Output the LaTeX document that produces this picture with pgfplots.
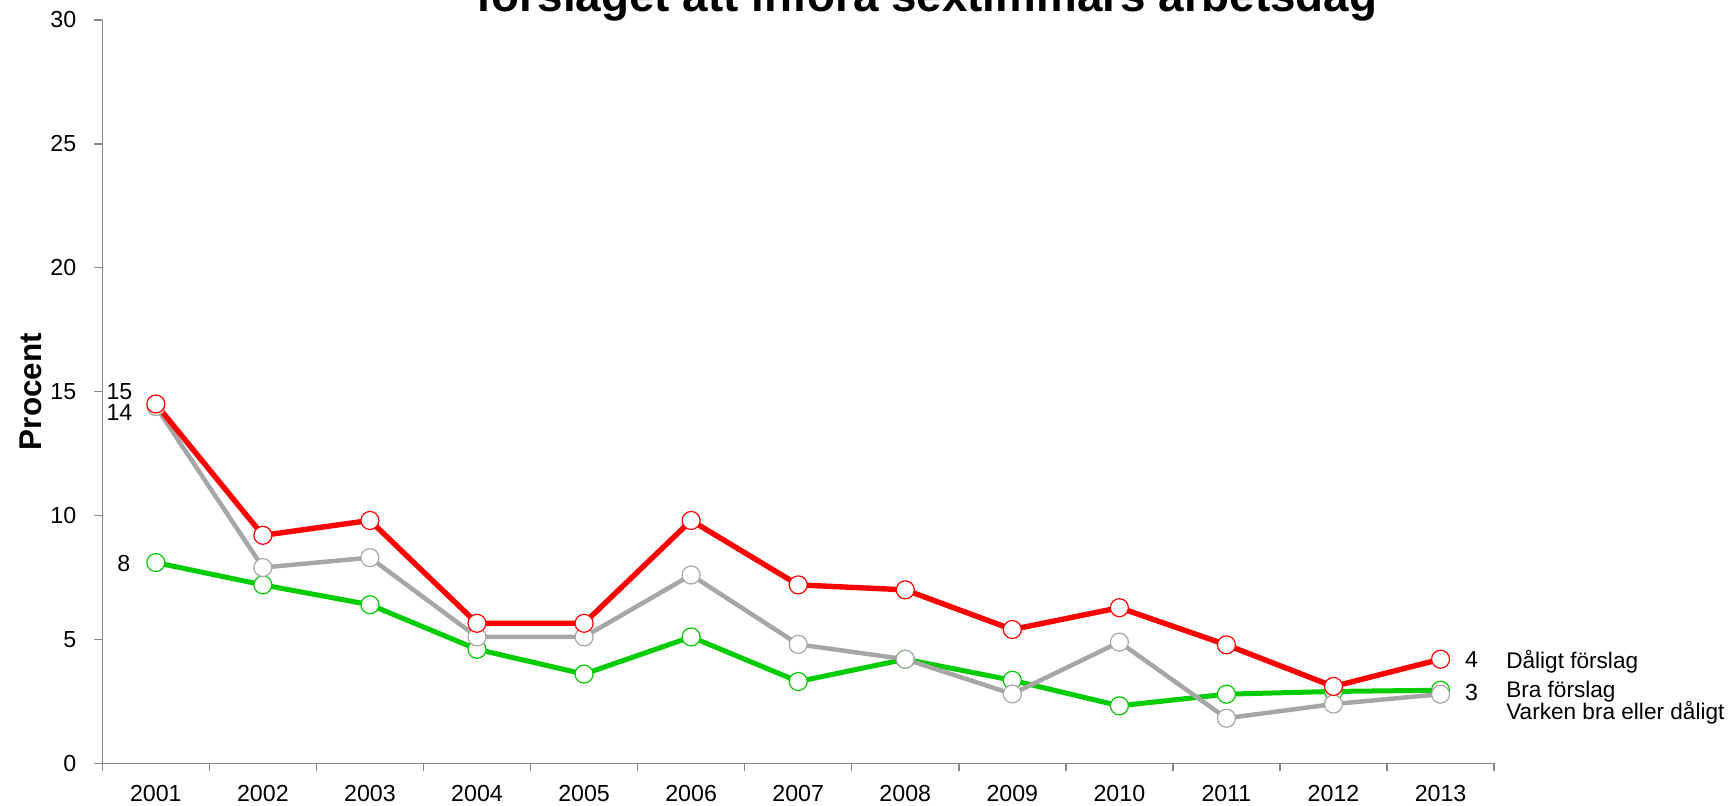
\documentclass[border=0pt]{standalone}
\usepackage{pgfplots}
\pgfplotsset{compat=1.18}
\usepackage{fontspec}
\setmainfont{Liberation Sans}
\definecolor{cred}{RGB}{255,0,0}
\definecolor{cgreen}{RGB}{0,204,0}
\definecolor{cgray}{RGB}{166,166,166}
\definecolor{caxis}{RGB}{134,134,134}
\begin{document}
\begin{tikzpicture}
\begin{axis}[
  at={(51.15pt,20.85pt)}, anchor=south west,
  scale only axis, width=695.9pt, height=371.7pt,
  xmin=2000.5, xmax=2013.5, ymin=0, ymax=30,
  axis x line*=bottom, axis y line*=left,
  axis line style={draw=caxis, line width=0.75pt},
  every tick/.style={draw=caxis, line width=0.75pt},
  tick align=outside,
  xtick={2000.5,2001.5,2002.5,2003.5,2004.5,2005.5,2006.5,2007.5,2008.5,2009.5,2010.5,2011.5,2012.5,2013.5},
  x tick label as interval,
  xticklabels={2001,2002,2003,2004,2005,2006,2007,2008,2009,2010,2011,2012,2013},
  ytick={0,5,10,15,20,25,30},
  major tick length=4pt,
  /pgf/number format/assume math mode=true,
  ticklabel style={font=\fontsize{11.6}{14}\selectfont, text=black},
  yticklabel style={xshift=-5.5pt},
  xticklabel style={yshift=-3.3pt},
  clip=false,
  every axis plot/.append style={mark=*, mark size=4.5pt, mark options={fill=white, line width=0.6pt, solid}},
]
\addplot[cgreen, line width=2.5pt] coordinates {
(2001,8.1)(2002,7.2)(2003,6.4)(2004,4.6)(2005,3.6)(2006,5.1)(2007,3.3)(2008,4.2)(2009,3.35)(2010,2.32)(2011,2.79)(2012,2.9)(2013,2.95)};
\addplot[cgray, line width=2.25pt] coordinates {
(2001,14.4)(2002,7.9)(2003,8.3)(2004,5.1)(2005,5.1)(2006,7.6)(2007,4.8)(2008,4.2)(2009,2.8)(2010,4.89)(2011,1.82)(2012,2.39)(2013,2.79)};
\addplot[cred, line width=2.7pt] coordinates {
(2001,14.5)(2002,9.2)(2003,9.8)(2004,5.65)(2005,5.65)(2006,9.8)(2007,7.2)(2008,7.0)(2009,5.4)(2010,6.28)(2011,4.78)(2012,3.1)(2013,4.2)};
\node[font=\fontsize{11.6}{14}\selectfont] at (axis cs:2000.66,15.0) {15};
\node[font=\fontsize{11.6}{14}\selectfont] at (axis cs:2000.66,14.15) {14};
\node[font=\fontsize{11.6}{14}\selectfont] at (axis cs:2000.7,8.08) {8};
\node[font=\fontsize{11.6}{14}\selectfont] at (axis cs:2013.29,4.17) {4};
\node[font=\fontsize{11.6}{14}\selectfont] at (axis cs:2013.29,2.86) {3};
\node[font=\fontsize{11.3}{14}\selectfont, anchor=west, inner sep=0pt] at (axis cs:2013.61,4.09) {Dåligt förslag};
\node[font=\fontsize{11.3}{14}\selectfont, anchor=west, inner sep=0pt] at (axis cs:2013.61,2.88) {Bra förslag};
\node[font=\fontsize{11.3}{14}\selectfont, anchor=west, inner sep=0pt] at (axis cs:2013.61,2.05) {Varken bra eller dåligt};
\end{axis}
\node[rotate=90, font=\fontsize{15.7}{18}\selectfont\bfseries] at (15.5pt,206.7pt) {Procent};
\node[font=\fontsize{22.9}{26}\selectfont\bfseries, anchor=base] at (463.5pt,396.6pt) {förslaget att införa sextimmars arbetsdag};
\pgfresetboundingbox
\useasboundingbox (0,0) rectangle (865pt,402.5pt);
\end{tikzpicture}
\end{document}
